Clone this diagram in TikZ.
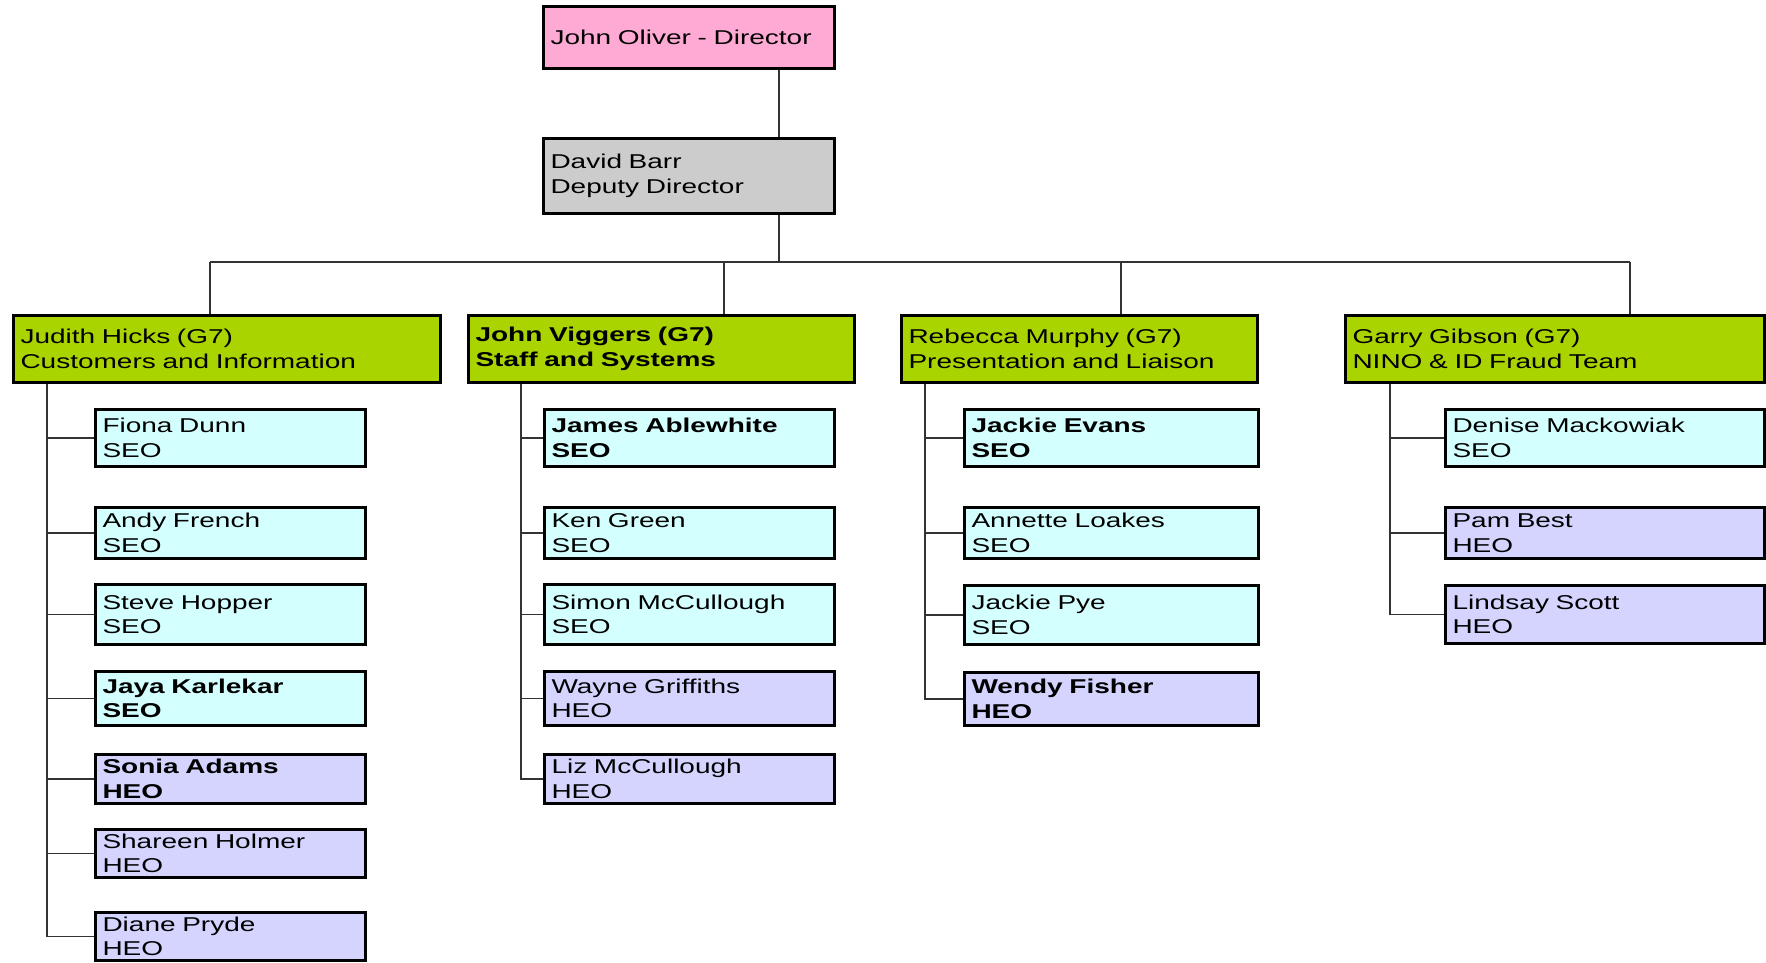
\documentclass[tikz,border=0pt]{standalone}
\usepackage{fontspec}
\setmainfont[FakeStretch=1.4]{Liberation Sans}
\definecolor{dirpink}{RGB}{255,170,212}
\definecolor{depgray}{RGB}{204,204,204}
\definecolor{headgreen}{RGB}{170,212,0}
\definecolor{seocyan}{RGB}{212,255,255}
\definecolor{heoblue}{RGB}{212,212,255}

\begin{document}
\begin{tikzpicture}[x=1pt,y=-1pt,
  box/.style={draw=black,line width=3pt,anchor=north west,align=left,
    inner xsep=7pt,inner ysep=0pt,font=\fontsize{20}{24.5}\selectfont},
  head/.style={box,fill=headgreen,minimum height=67pt},
  seo/.style={box,fill=seocyan},
  heo/.style={box,fill=heoblue},
  colj/.style={text width=256pt},
  colv/.style={text width=276pt},
  colr/.style={text width=280pt},
  colg/.style={text width=305pt},
  link/.style={line width=1.5pt,draw=black!80}]
\useasboundingbox (0,0) rectangle (1766,962);
% top
\node[box,fill=dirpink,text width=277pt,minimum height=62pt] (director) at (542,5) {John Oliver - Director};
\node[box,fill=depgray,text width=277pt,minimum height=75pt] (deputy) at (542,137) {David Barr\\Deputy Director};
% heads of team
\node[head,text width=413pt] (judith) at (12,314) {Judith Hicks (G7)\\Customers and Information};
\node[head,text width=372pt] (viggers) at (467,314) {\textbf{John Viggers (G7)}\\\textbf{Staff and Systems}};
\node[head,text width=342pt] (rebecca) at (900,314) {Rebecca Murphy (G7)\\Presentation and Liaison};
\node[head,text width=405pt] (garry) at (1344,314) {Garry Gibson (G7)\\NINO \& ID Fraud Team};
% customers and information
\node[seo,colj,minimum height=57pt] (fiona) at (94,408) {Fiona Dunn\\SEO};
\node[seo,colj,minimum height=51pt] (andy) at (94,506) {Andy French\\SEO};
\node[seo,colj,minimum height=60pt] (steve) at (94,583) {Steve Hopper\\SEO};
\node[seo,colj,minimum height=54pt] (jaya) at (94,670) {\textbf{Jaya Karlekar}\\\textbf{SEO}};
\node[heo,colj,minimum height=49pt] (sonia) at (94,753) {\textbf{Sonia Adams}\\\textbf{HEO}};
\node[heo,colj,minimum height=48pt] (shareen) at (94,828) {Shareen Holmer\\HEO};
\node[heo,colj,minimum height=48pt] (diane) at (94,911) {Diane Pryde\\HEO};
% staff and systems
\node[seo,colv,minimum height=57pt] (james) at (543,408) {\textbf{James Ablewhite}\\\textbf{SEO}};
\node[seo,colv,minimum height=51pt] (ken) at (543,506) {Ken Green\\SEO};
\node[seo,colv,minimum height=60pt] (simon) at (543,583) {Simon McCullough\\SEO};
\node[heo,colv,minimum height=54pt] (wayne) at (543,670) {Wayne Griffiths\\HEO};
\node[heo,colv,minimum height=49pt] (liz) at (543,753) {Liz McCullough\\HEO};
% presentation and liaison
\node[seo,colr,minimum height=57pt] (jevans) at (963,408) {\textbf{Jackie Evans}\\\textbf{SEO}};
\node[seo,colr,minimum height=51pt] (annette) at (963,506) {Annette Loakes\\SEO};
\node[seo,colr,minimum height=59pt] (jpye) at (963,584) {Jackie Pye\\SEO};
\node[heo,colr,minimum height=53pt] (wendy) at (963,671) {\textbf{Wendy Fisher}\\\textbf{HEO}};
% nino and id fraud
\node[seo,colg,minimum height=57pt] (denise) at (1444,408) {Denise Mackowiak\\SEO};
\node[heo,colg,minimum height=51pt] (pam) at (1444,506) {Pam Best\\HEO};
\node[heo,colg,minimum height=58pt] (lindsay) at (1444,584) {Lindsay Scott\\HEO};
% connectors
\coordinate (spine) at (779,262);
\coordinate (jdrop) at (210,262);
\coordinate (vdrop) at (724,262);
\coordinate (rdrop) at (1121,262);
\coordinate (gdrop) at (1630,262);
\draw[link] (spine |- director.south) -- (spine |- deputy.north);
\draw[link] (spine |- deputy.south) -- (spine);
\draw[link] (jdrop) -- (gdrop);
\foreach \d/\h in {jdrop/judith,vdrop/viggers,rdrop/rebecca,gdrop/garry}
\draw[link] (\d) -- (\d |- \h.north);
\coordinate (jtrunk) at (47,0);
\coordinate (vtrunk) at (521,0);
\coordinate (rtrunk) at (925,0);
\coordinate (gtrunk) at (1390,0);
\foreach \c in {fiona,andy,steve,jaya,sonia,shareen,diane}
\draw[link] (jtrunk |- judith.south) |- (\c.west);
\foreach \c in {james,ken,simon,wayne,liz}
\draw[link] (vtrunk |- viggers.south) |- (\c.west);
\foreach \c in {jevans,annette,jpye,wendy}
\draw[link] (rtrunk |- rebecca.south) |- (\c.west);
\foreach \c in {denise,pam,lindsay}
\draw[link] (gtrunk |- garry.south) |- (\c.west);
\end{tikzpicture}
\end{document}
